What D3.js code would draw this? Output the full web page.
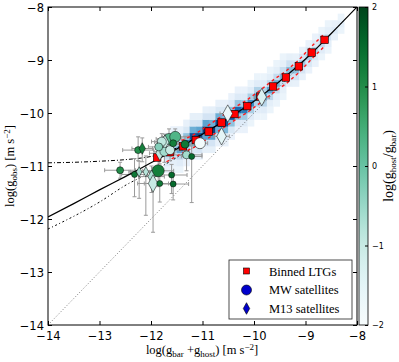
<!DOCTYPE html>
<html lang="en">
<head>
  <meta charset="UTF-8" />
  <title>Radial acceleration relation with satellites</title>
  <script src="https://d3js.org/d3.v7.min.js"></script>
  <style>
    body { margin: 0; background: #fff; }
    .tick text { font-family: "DejaVu Sans", sans-serif; font-size: 11.5px; }
    .lab { font-family: "Liberation Serif", serif; font-size: 12.5px; }
  </style>
</head>
<body>
<svg id="chart" width="399" height="362"></svg>
<script>
// binned late-type galaxies (red squares)
const binnedX = [-11.88, -11.63, -11.38, -11.13, -10.88, -10.63, -10.38, -10.13, -9.88, -9.63, -9.38, -9.13, -8.88, -8.63];
const binnedY = [-10.84, -10.74, -10.63, -10.51, -10.35, -10.18, -10.02, -9.87, -9.69, -9.50, -9.33, -9.12, -8.86, -8.62];
// red dashed scatter envelope
const upperX = [-11.75, -11.38, -11.13, -10.88, -10.63, -10.38, -10.13, -9.88, -9.63, -9.38, -9.13, -8.88, -8.63];
const upperY = [-10.57, -10.51, -10.39, -10.23, -10.06, -9.90, -9.75, -9.57, -9.38, -9.21, -9.00, -8.74, -8.50];
const lowerX = [-11.70, -11.38, -11.13, -10.88, -10.63, -10.38, -10.13, -9.88, -9.63, -9.38, -9.13, -8.88, -8.63];
const lowerY = [-10.92, -10.75, -10.63, -10.47, -10.30, -10.14, -9.99, -9.81, -9.62, -9.45, -9.24, -8.98, -8.74];
// solid relation
const rarX = [-14, -13.5, -13, -12.5, -12, -11.5, -11, -10.5, -10, -9.5, -9, -8.5, -8];
const rarY = [-11.96, -11.71, -11.45, -11.20, -10.94, -10.68, -10.40, -10.10, -9.78, -9.40, -8.98, -8.50, -8.0];
// dash-dot upper curve
const efeX = [-14, -13.5, -13, -12.5, -12, -11.75, -11.5, -11.25, -11, -10.75, -10.5];
const efeY = [-10.94, -10.93, -10.91, -10.88, -10.82, -10.76, -10.66, -10.53, -10.39, -10.25, -10.10];
// dash-dot lower curve
const lowX = [-14, -13, -12.47, -12, -11.5, -11];
const lowY = [-12.19, -11.68, -11.35, -11.12, -10.84, -10.55];
// one-to-one
const oneX = [-14, -8];
const oneY = [-14, -8];

// 2D histogram of LTG points: column left edge, bottom edge of first bin, densities (bins of 0.125 dex)
const histX = [-11.75, -11.625, -11.5, -11.375, -11.25, -11.125, -11.0, -10.875, -10.75, -10.625,
  -10.5, -10.375, -10.25, -10.125, -10.0, -9.875, -9.75, -9.625, -9.5, -9.375,
  -9.25, -9.125, -9.0, -8.875, -8.75, -8.625, -8.5, -8.375];
const histY0 = [-11.25, -11.125, -11.125, -11.0, -10.875, -10.875, -10.75, -10.75, -10.625, -10.625,
  -10.5, -10.375, -10.375, -10.25, -10.125, -10.125, -10.0, -9.875, -9.75, -9.625,
  -9.625, -9.5, -9.375, -9.25, -9.125, -9.0, -8.875, -8.75];
const histV = [
  [0, 0.03, 0.1, 0.2, 0.12, 0.05, 0.02],
  [0.02, 0.06, 0.18, 0.35, 0.2, 0.08, 0.03],
  [0.02, 0.08, 0.25, 0.55, 0.3, 0.1, 0.04],
  [0.03, 0.1, 0.35, 0.75, 0.4, 0.12, 0.04],
  [0.04, 0.12, 0.45, 0.9, 0.5, 0.14, 0.05],
  [0.04, 0.14, 0.5, 0.95, 0.55, 0.15, 0.05],
  [0.05, 0.15, 0.55, 1.0, 0.55, 0.15, 0.04],
  [0.05, 0.15, 0.55, 1.0, 0.5, 0.15, 0.05],
  [0.04, 0.14, 0.5, 0.95, 0.5, 0.12, 0.04],
  [0.04, 0.12, 0.45, 0.9, 0.45, 0.12, 0.04],
  [0.03, 0.12, 0.4, 0.85, 0.4, 0.1, 0.03],
  [0.03, 0.1, 0.38, 0.8, 0.38, 0.1, 0.03],
  [0.03, 0.1, 0.35, 0.72, 0.35, 0.1, 0.03],
  [0.02, 0.08, 0.32, 0.66, 0.32, 0.08, 0.02],
  [0.02, 0.08, 0.3, 0.6, 0.3, 0.08, 0.02],
  [0.02, 0.08, 0.28, 0.55, 0.28, 0.08, 0.02],
  [0.02, 0.06, 0.25, 0.55, 0.25, 0.06, 0.02],
  [0.02, 0.06, 0.22, 0.5, 0.22, 0.06, 0.02],
  [0.02, 0.05, 0.2, 0.45, 0.2, 0.05, 0.02],
  [0, 0.05, 0.18, 0.42, 0.18, 0.05, 0],
  [0, 0.04, 0.16, 0.4, 0.16, 0.04, 0],
  [0, 0.04, 0.14, 0.36, 0.14, 0.04, 0],
  [0, 0.03, 0.12, 0.32, 0.12, 0.03, 0],
  [0, 0.03, 0.1, 0.28, 0.1, 0.03, 0],
  [0, 0.02, 0.08, 0.22, 0.08, 0.02, 0],
  [0, 0.02, 0.06, 0.16, 0.06, 0.02, 0],
  [0, 0, 0.04, 0.1, 0.04, 0, 0],
  [0, 0, 0.02, 0.06, 0.02, 0, 0]
];

// satellites: o = MW, d = M13
const satType = ["o","d","o","o","d","o","o","o","o","o","o","o","d","o","o","o","o","d","d","d","d","o","o","o","d","d","d","o"];
const satX    = [-11.65,-11.73,-11.79,-11.53,-11.83,-11.74,-11.63,-11.34,-11.31,-11.21,-11.05,-12.25,-12.17,-11.86,-11.60,-12.60,-12.32,-12.23,-12.10,-11.99,-11.96,-11.83,-11.57,-11.57,-10.51,-10.63,-9.85,-11.85];
const satY    = [-10.49,-10.55,-10.54,-10.45,-10.76,-10.73,-10.70,-10.59,-10.79,-10.82,-10.57,-10.70,-10.67,-11.09,-11.17,-11.08,-11.16,-11.11,-11.11,-11.20,-11.33,-11.33,-11.34,-10.57,-10.01,-10.44,-9.70,-10.64];
const satXErr = [0.25,0.2,0.2,0.25,0.2,0.2,0.2,0.25,0.3,0.2,0.15,0.3,0.2,0.3,0.3,0.3,0.25,0.2,0.3,0.25,0.3,0.3,0.3,0.3,0.15,0.15,0.15,0.2];
const satYLo  = [0.15,0.15,0.15,0.15,0.2,0.2,0.2,0.2,0.3,0.87,0.1,0.2,0.25,0.3,0.35,0.15,0.42,0.5,0.82,0.3,0.92,0.35,0.3,0.2,0.1,0.1,0.1,0.15];
const satYHi  = [0.19,0.15,0.15,0.15,0.2,0.15,0.15,0.15,0.2,0.2,0.1,0.25,0.2,0.25,0.2,0.15,0.3,0.2,0.3,0.2,0.3,0.2,0.2,0.15,0.1,0.1,0.1,0.15];
const satC    = [0.2,-1.0,-0.9,0.3,-0.9,-0.6,-1.0,1.3,-0.6,1.5,-1.9,1.0,1.2,1.2,1.5,1.0,1.3,-0.6,-0.8,-0.7,-1.0,1.3,1.5,1.2,-1.7,-1.5,-1.3,-0.3];
const satR    = [5.5,5,4.5,5.5,5,4.5,4.5,4,4,3,5.5,3.5,4,6,3,3.5,3,3.5,3.5,4.5,6,3,3,3.5,6,6,6,4];

const ticks = [-14, -13, -12, -11, -10, -9, -8];
const cbTicks = [-2, -1, 0, 1, 2];
const legendLabels = ["Binned LTGs", "MW satellites", "M13 satellites"];

const svg = d3.select("#chart");
const x = d3.scaleLinear().domain([-14, -8]).range([48, 357]);
const y = d3.scaleLinear().domain([-14, -8]).range([325, 7]);
const cmap = d3.scaleSequential(d3.interpolateBuGn).domain([-2, 2]);

svg.append("clipPath").attr("id", "clip")
  .append("rect").attr("x", 48).attr("y", 7).attr("width", 309).attr("height", 318);
const plot = svg.append("g").attr("clip-path", "url(#clip)");

// histogram
histX.forEach((x0, i) => {
  histV[i].forEach((v, j) => {
    if (v <= 0) return;
    const y0 = histY0[i] + j * 0.125;
    plot.append("rect")
      .attr("x", x(x0)).attr("y", y(y0 + 0.125))
      .attr("width", x(x0 + 0.125) - x(x0) + 0.3)
      .attr("height", y(y0) - y(y0 + 0.125) + 0.3)
      .attr("fill", d3.interpolateBlues(0.04 + v * 0.92));
  });
});

const line = d3.line().x(d => x(d[0])).y(d => y(d[1]));
const zip = (a, b) => a.map((v, i) => [v, b[i]]);

plot.append("path").attr("d", line(zip(oneX, oneY)))
  .attr("fill", "none").attr("stroke", "#555").attr("stroke-width", 0.8).attr("stroke-dasharray", "1,2");
plot.append("path").attr("d", d3.line().x(d => x(d[0])).y(d => y(d[1])).curve(d3.curveMonotoneX)(zip(lowX, lowY)))
  .attr("fill", "none").attr("stroke", "#000").attr("stroke-width", 1).attr("stroke-dasharray", "2,2.5,1,2.5");
plot.append("path").attr("d", d3.line().x(d => x(d[0])).y(d => y(d[1])).curve(d3.curveMonotoneX)(zip(efeX, efeY)))
  .attr("fill", "none").attr("stroke", "#000").attr("stroke-width", 1).attr("stroke-dasharray", "4,2,1,2");

// satellites error bars
const errG = plot.append("g").attr("stroke", "#9a9a9a").attr("stroke-width", 1);
satX.forEach((sx, i) => {
  const px = x(sx), py = y(satY[i]);
  const xl = x(sx - satXErr[i]), xr = x(sx + satXErr[i]);
  const yl = y(satY[i] - satYLo[i]), yh = y(satY[i] + satYHi[i]);
  errG.append("line").attr("x1", xl).attr("x2", xr).attr("y1", py).attr("y2", py);
  errG.append("line").attr("x1", px).attr("x2", px).attr("y1", yl).attr("y2", yh);
  [xl, xr].forEach(cx => errG.append("line").attr("x1", cx).attr("x2", cx).attr("y1", py - 2).attr("y2", py + 2));
  [yl, yh].forEach(cy => errG.append("line").attr("x1", px - 2).attr("x2", px + 2).attr("y1", cy).attr("y2", cy));
});

// red dashed envelopes
[[upperX, upperY], [lowerX, lowerY]].forEach(([a, b]) => {
  plot.append("path").attr("d", line(zip(a, b)))
    .attr("fill", "none").attr("stroke", "#ff1a1a").attr("stroke-width", 1.4).attr("stroke-dasharray", "3,3");
});

// solid relation
plot.append("path").attr("d", d3.line().x(d => x(d[0])).y(d => y(d[1])).curve(d3.curveMonotoneX)(zip(rarX, rarY)))
  .attr("fill", "none").attr("stroke", "#000").attr("stroke-width", 1.2);

// binned squares
plot.selectAll(".bin").data(zip(binnedX, binnedY)).enter().append("rect")
  .attr("x", d => x(d[0]) - 3.75).attr("y", d => y(d[1]) - 3.75)
  .attr("width", 7.5).attr("height", 7.5)
  .attr("fill", "#ff0000").attr("stroke", "#000").attr("stroke-width", 0.6);

// satellites markers
const diamond = (cx, cy, r) => `M${cx},${cy - r * 1.45}L${cx + r * 0.8},${cy}L${cx},${cy + r * 1.45}L${cx - r * 0.8},${cy}Z`;
satX.forEach((sx, i) => {
  const px = x(sx), py = y(satY[i]);
  if (satType[i] === "o") {
    plot.append("circle").attr("cx", px).attr("cy", py).attr("r", satR[i])
      .attr("fill", cmap(satC[i])).attr("stroke", "#000").attr("stroke-width", 0.5);
  } else {
    plot.append("path").attr("d", diamond(px, py, satR[i]))
      .attr("fill", cmap(satC[i])).attr("stroke", "#000").attr("stroke-width", 0.5);
  }
});

// axes
const fmt = d3.format("d");
svg.append("g").attr("transform", "translate(0,325)")
  .call(d3.axisBottom(x).tickValues(ticks).tickSize(-4).tickPadding(7).tickFormat(fmt));
const ay = svg.append("g").attr("transform", "translate(48,0)")
  .call(d3.axisLeft(y).tickValues(ticks).tickSize(-4).tickPadding(4).tickFormat(fmt));
svg.append("g").attr("transform", "translate(0,7)")
  .call(d3.axisTop(x).tickValues(ticks).tickSize(-4).tickFormat(""));
svg.append("g").attr("transform", "translate(357,0)")
  .call(d3.axisRight(y).tickValues(ticks).tickSize(-4).tickFormat(""));
svg.selectAll(".domain").remove();
svg.selectAll(".tick line").attr("stroke", "#000");
ay.selectAll(".tick text").attr("dy", "0.36em");
svg.append("rect").attr("x", 48).attr("y", 7).attr("width", 309).attr("height", 318)
  .attr("fill", "none").attr("stroke", "#000").attr("stroke-width", 1);

// colorbar
const cy = d3.scaleLinear().domain([-2, 2]).range([325, 7]);
const grad = svg.append("defs").append("linearGradient").attr("id", "cb")
  .attr("x1", 0).attr("x2", 0).attr("y1", 1).attr("y2", 0);
d3.range(0, 1.0001, 0.05).forEach(t => grad.append("stop").attr("offset", t).attr("stop-color", d3.interpolateBuGn(t)));
svg.append("rect").attr("x", 359).attr("y", 7).attr("width", 9).attr("height", 318)
  .attr("fill", "url(#cb)").attr("stroke", "#000").attr("stroke-width", 0.8);
const cbAxis = svg.append("g").attr("transform", "translate(368,0)")
  .call(d3.axisRight(cy).tickValues(cbTicks).tickSize(-3).tickPadding(4).tickFormat(fmt));
cbAxis.select(".domain").remove();
cbAxis.selectAll(".tick text").style("font-size", "8px");

// labels
function mathLabel(g, parts, size) {
  const t = g.append("text").attr("class", "lab").attr("text-anchor", "middle");
  if (size) t.style("font-size", size + "px");
  parts.forEach(p => {
    const s = t.append("tspan").text(p[0]);
    if (p[1] === "sub") s.attr("font-size", "9px").attr("dy", 3);
    else if (p[1] === "sup") s.attr("font-size", "9px").attr("dy", -4);
    else if (p[1] === "back-sub") s.attr("dy", -3);
    else if (p[1] === "back-sup") s.attr("dy", 4);
  });
  return t;
}
mathLabel(svg.append("g").attr("transform", "translate(202,354)"),
  [["log(g"], ["bar", "sub"], [" +g", "back-sub"], ["host", "sub"], [") [m s", "back-sub"], ["−2", "sup"], ["]", "back-sup"]]);
mathLabel(svg.append("g").attr("transform", "translate(14,166) rotate(-90)"),
  [["log(g"], ["obs", "sub"], [") [m s", "back-sub"], ["−2", "sup"], ["]", "back-sup"]]);
mathLabel(svg.append("g").attr("transform", "translate(393,166) rotate(-90)"),
  [["log(g"], ["host", "sub"], ["/g", "back-sub"], ["bar", "sub"], [")", "back-sub"]], 14);

// legend
const lg = svg.append("g").attr("transform", "translate(229,260)");
lg.append("rect").attr("width", 123).attr("height", 59).attr("fill", "#fff").attr("stroke", "#222").attr("stroke-width", 0.8);
lg.append("rect").attr("x", 14.5).attr("y", 8).attr("width", 6).attr("height", 6)
  .attr("fill", "#ff0000").attr("stroke", "#000").attr("stroke-width", 0.6);
lg.append("circle").attr("cx", 17.5).attr("cy", 30).attr("r", 5)
  .attr("fill", "#0000cc").attr("stroke", "#000").attr("stroke-width", 0.6);
lg.append("path").attr("d", diamond(17.5, 48.5, 4))
  .attr("fill", "#0000cc").attr("stroke", "#000").attr("stroke-width", 0.6);
legendLabels.forEach((t, i) => {
  lg.append("text").attr("class", "lab").attr("x", 40).attr("y", 15.5 + i * 18.5)
    .style("font-size", "12.5px").text(t);
});
</script>
</body>
</html>
